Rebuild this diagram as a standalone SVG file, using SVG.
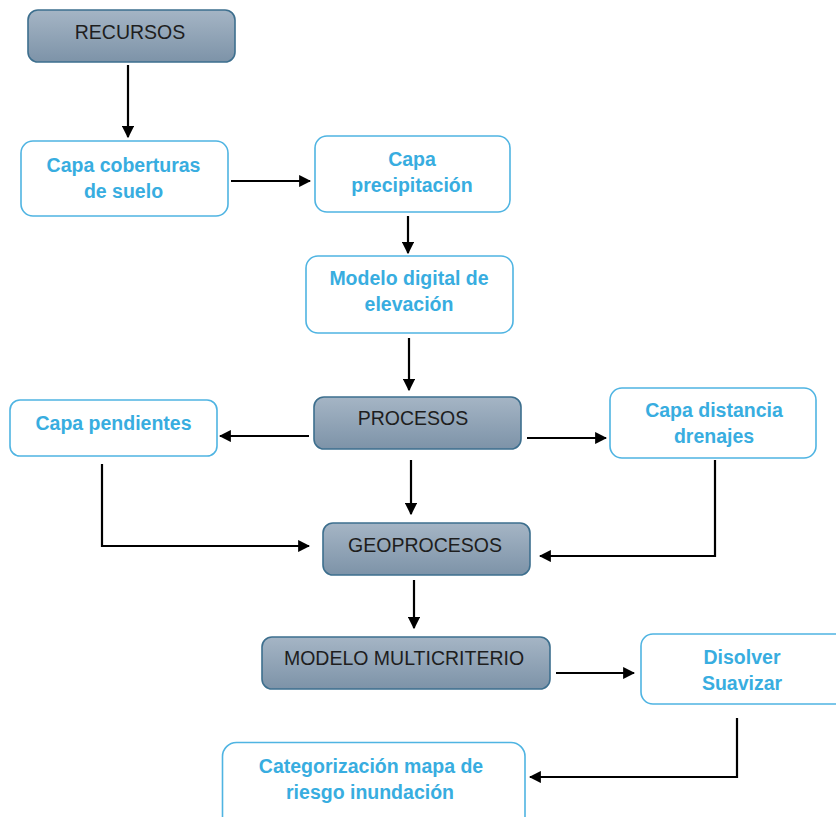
<svg xmlns="http://www.w3.org/2000/svg" width="836" height="817" viewBox="0 0 836 817">
<defs>
<linearGradient id="g" x1="0" y1="0" x2="0" y2="1">
<stop offset="0" stop-color="#a5b5c5"/>
<stop offset="1" stop-color="#7d93a8"/>
</linearGradient>
<marker id="ah" viewBox="0 0 10 10" refX="9" refY="5" markerWidth="5.5" markerHeight="5.5" orient="auto" markerUnits="strokeWidth">
<path d="M0,0 L10,5 L0,10 z" fill="#000"/>
</marker>
<style>
.dk rect{fill:url(#g);stroke:#3d6f8e;stroke-width:1.6}
.lt rect{fill:#fff;stroke:#4fb4e2;stroke-width:1.6}
.dk text{font-family:"Liberation Sans",Arial,sans-serif;font-size:19.5px;fill:#1e1e1e;text-anchor:middle}
.lt text{font-family:"Liberation Sans",Arial,sans-serif;font-size:19.5px;font-weight:bold;fill:#38ade0;text-anchor:middle}
#connectors path{fill:none;stroke:#000;stroke-width:2.2;marker-end:url(#ah)}
</style>
</defs>
<rect width="836" height="817" fill="#fff"/>
<g id="recursos" class="dk"><rect x="28" y="10" width="207" height="52" rx="10"/><text x="130" y="38.5">RECURSOS</text></g>
<g id="coberturas" class="lt"><rect x="21" y="141" width="207" height="75" rx="12"/><text x="123.5" y="172">Capa coberturas</text><text x="123.5" y="198">de suelo</text></g>
<g id="precipitacion" class="lt"><rect x="315" y="136" width="195" height="76" rx="12"/><text x="412" y="166">Capa</text><text x="412" y="192">precipitación</text></g>
<g id="mde" class="lt"><rect x="306" y="256" width="207" height="77" rx="12"/><text x="409" y="285">Modelo digital de</text><text x="409" y="311">elevación</text></g>
<g id="procesos" class="dk"><rect x="314" y="397" width="207" height="52" rx="10"/><text x="413" y="424.5">PROCESOS</text></g>
<g id="pendientes" class="lt"><rect x="10" y="400" width="207" height="56" rx="10"/><text x="113.5" y="430">Capa pendientes</text></g>
<g id="distancia" class="lt"><rect x="610" y="388" width="206" height="70" rx="12"/><text x="714" y="417">Capa distancia</text><text x="714" y="443">drenajes</text></g>
<g id="geoprocesos" class="dk"><rect x="323" y="523" width="207" height="52" rx="10"/><text x="425" y="552">GEOPROCESOS</text></g>
<g id="multicriterio" class="dk"><rect x="262" y="637" width="288" height="52" rx="10"/><text x="404" y="665">MODELO MULTICRITERIO</text></g>
<g id="disolver" class="lt"><rect x="641" y="634" width="210" height="70" rx="12"/><text x="742" y="663.5">Disolver</text><text x="742" y="689.5">Suavizar</text></g>
<g id="categorizacion" class="lt"><rect x="222.5" y="742.5" width="302.5" height="90" rx="14"/><text x="371" y="773">Categorización mapa de</text><text x="370" y="798.5">riesgo inundación</text></g>
<g id="connectors">
<path d="M128,65 V137"/>
<path d="M231,181 H310"/>
<path d="M408,216 V253"/>
<path d="M409,338 V390"/>
<path d="M309,436 H220"/>
<path d="M527,438 H606"/>
<path d="M411,460 V514"/>
<path d="M102,464 V546 H309"/>
<path d="M715,460 V556 H540"/>
<path d="M414,580 V628"/>
<path d="M556,673 H634"/>
<path d="M737,718 V777 H530"/>
</g>
</svg>
